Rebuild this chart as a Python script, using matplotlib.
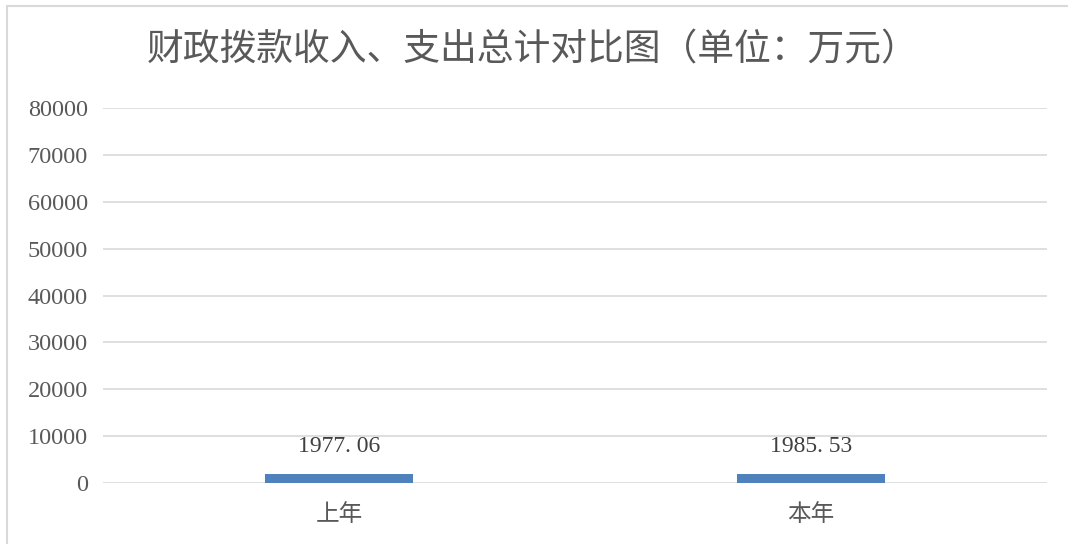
import matplotlib
matplotlib.use("Agg")
import matplotlib.pyplot as plt
from matplotlib.patches import Rectangle

categories = ["上年", "本年"]
values = [1977.06, 1985.53]
value_labels = ["1977. 06", "1985. 53"]
yticks = [0, 10000, 20000, 30000, 40000, 50000, 60000, 70000, 80000]
title = "财政拨款收入、支出总计对比图（单位：万元）"

W, H = 1068, 544
fig = plt.figure(figsize=(W / 100, H / 100), dpi=100)
ax = fig.add_axes([103 / W, 1 - 483 / H, (1047 - 103) / W, (483 - 108) / H])

cjk = ["Noto Sans CJK SC", "DejaVu Sans"]
serif = ["Liberation Serif", "DejaVu Serif"]
grey = "#595959"

x = list(range(len(categories)))
ax.bar(x, values, width=0.314, color="#4F81BD", zorder=3)
ax.set_xlim(-0.5, len(categories) - 0.5)
ax.set_ylim(0, 80000)
ax.set_yticks(yticks)
ax.set_yticklabels([str(t) for t in yticks], family=serif, fontsize=17.5, color=grey)
ax.set_xticks(x)
ax.set_xticklabels(categories, family=cjk, fontsize=17, color=grey)
ax.tick_params(axis="both", length=0)
ax.tick_params(axis="y", pad=11)
ax.tick_params(axis="x", pad=14.5)
ax.grid(axis="y", color="#d9d9d9", linewidth=1.2, zorder=0)
for s in ax.spines.values():
    s.set_visible(False)

for xi, v, lab in zip(x, values, value_labels):
    ax.annotate(lab, (xi, v), xytext=(0, 12), textcoords="offset points",
                ha="center", va="bottom", family=serif, fontsize=17, color="#404040")

fig.text(533 / W, 1 - 50 / H, title, family=cjk, fontsize=26.5, color=grey,
         ha="center", va="center")

fig.patches.append(Rectangle((7 / W, -0.1), 1.2, 1 - 6 / H + 0.1, transform=fig.transFigure,
                             fill=False, edgecolor="#d9d9d9", linewidth=1.5))

fig.savefig("out.png", dpi=100)
